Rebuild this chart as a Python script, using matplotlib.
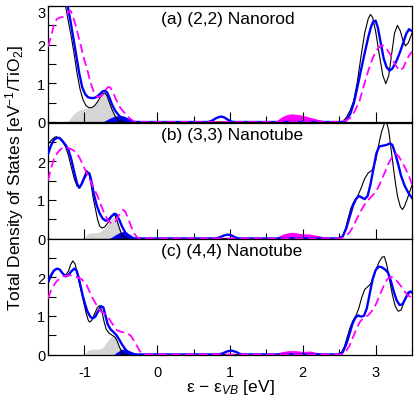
import matplotlib
matplotlib.use('Agg')
import matplotlib.pyplot as plt

plt.rcParams['font.family'] = ['Liberation Sans', 'DejaVu Sans']
plt.rcParams['mathtext.fontset'] = 'custom'
plt.rcParams['mathtext.rm'] = 'Liberation Sans'
plt.rcParams['mathtext.it'] = 'Liberation Sans:italic'
plt.rcParams['axes.unicode_minus'] = False

# ---- data ---------------------------------------------------------------
# panel (a) (2,2) Nanorod
A_black_x = [-1.50, -1.40, -1.30, -1.26, -1.22, -1.18, -1.14, -1.10, -1.06, -1.02,
             -0.98, -0.94, -0.90, -0.86, -0.82, -0.78, -0.75, -0.72, -0.69, -0.66,
             -0.62, -0.58, -0.54, -0.50, -0.45,
             2.50, 2.55, 2.60, 2.65, 2.70, 2.75, 2.80, 2.85, 2.90, 2.93,
             2.96, 3.00, 3.05, 3.10, 3.14, 3.18, 3.22, 3.26, 3.30, 3.34,
             3.38, 3.41, 3.45, 3.50]
A_black_y = [4.60, 4.00, 3.30, 3.00, 2.60, 2.20, 1.75, 1.25, 0.85, 0.58,
             0.43, 0.37, 0.37, 0.42, 0.52, 0.65, 0.73, 0.75, 0.68, 0.52,
             0.32, 0.16, 0.06, 0.01, 0.00,
             0.00, 0.02, 0.12, 0.30, 0.55, 1.05, 1.70, 2.30, 2.68, 2.78,
             2.70, 2.35, 1.75, 1.20, 0.99, 1.20, 1.75, 2.30, 2.50, 2.35,
             2.08, 1.97, 2.05, 2.30]
A_blue_x = [-1.50, -1.30, -1.23, -1.19, -1.15, -1.11, -1.07, -1.03, -0.99, -0.95,
            -0.91, -0.87, -0.83, -0.79, -0.75, -0.72, -0.69, -0.66, -0.62, -0.58,
            -0.54, -0.50, -0.45, -0.40, -0.35,
            0.70, 0.75, 0.80, 0.85, 0.88, 0.92, 0.97, 1.02, 1.06,
            2.55, 2.60, 2.65, 2.70, 2.75, 2.80, 2.85, 2.90, 2.94, 2.97,
            3.00, 3.03, 3.07, 3.11, 3.15, 3.19, 3.23, 3.28, 3.33, 3.38,
            3.42, 3.46, 3.50]
A_blue_y = [4.50, 3.40, 3.00, 2.60, 2.15, 1.70, 1.25, 0.90, 0.72, 0.64,
            0.62, 0.62, 0.65, 0.72, 0.79, 0.81, 0.77, 0.65, 0.45, 0.30,
            0.20, 0.12, 0.06, 0.02, 0.00,
            0.00, 0.03, 0.09, 0.13, 0.14, 0.12, 0.06, 0.01, 0.00,
            0.00, 0.05, 0.20, 0.48, 0.90, 1.35, 1.78, 2.20, 2.48, 2.60,
            2.62, 2.45, 2.05, 1.65, 1.42, 1.33, 1.38, 1.55, 1.78, 2.05,
            2.28, 2.40, 2.35]
A_mag_x = [-1.50, -1.46, -1.42, -1.38, -1.34, -1.29, -1.25, -1.22, -1.19, -1.16,
           -1.12, -1.08, -1.04, -1.00, -0.96, -0.92, -0.88, -0.84, -0.80, -0.76,
           -0.72, -0.68, -0.65, -0.62, -0.58, -0.54, -0.50, -0.46, -0.42, -0.38,
           -0.34, -0.30,
           2.50, 2.60, 2.66, 2.72, 2.78, 2.84, 2.90, 2.96, 3.01, 3.06,
           3.10, 3.15, 3.21, 3.27, 3.33, 3.38, 3.42, 3.46, 3.50]
A_mag_y = [1.95, 2.20, 2.50, 2.66, 2.70, 2.72, 2.73, 2.85, 2.88, 2.75,
           2.50, 2.20, 1.90, 1.60, 1.35, 1.05, 0.82, 0.68, 0.64, 0.68,
           0.80, 0.90, 0.90, 0.82, 0.65, 0.48, 0.35, 0.26, 0.18, 0.10,
           0.04, 0.00,
           0.00, 0.05, 0.12, 0.30, 0.55, 0.95, 1.33, 1.65, 1.85, 1.96,
           1.98, 1.90, 1.72, 1.48, 1.33, 1.40, 1.58, 1.72, 1.82]
A_gray_x = [-1.24, -1.20, -1.15, -1.10, -1.05, -1.00, -0.95, -0.90, -0.86, -0.82,
            -0.78, -0.75, -0.72, -0.69, -0.66, -0.62, -0.58, -0.54, -0.50, -0.47]
A_gray_y = [0.00, 0.08, 0.20, 0.28, 0.32, 0.34, 0.36, 0.37, 0.42, 0.52,
            0.65, 0.73, 0.75, 0.68, 0.52, 0.32, 0.16, 0.06, 0.01, 0.00]
A_bfill_x = [-0.75, -0.70, -0.65, -0.60, -0.55, -0.50, -0.45, -0.40, -0.35, -0.30, -0.28]
A_bfill_y = [0.00, 0.05, 0.10, 0.14, 0.16, 0.17, 0.15, 0.10, 0.05, 0.01, 0.00]
A_mfill_x = [1.60, 1.65, 1.70, 1.75, 1.80, 1.85, 1.90, 1.95, 2.00, 2.05,
             2.10, 2.15, 2.20, 2.28, 2.36, 2.45]
A_mfill_y = [0.00, 0.05, 0.12, 0.17, 0.20, 0.21, 0.20, 0.19, 0.17, 0.15,
             0.12, 0.10, 0.07, 0.04, 0.02, 0.00]

# panel (b) (3,3) Nanotube
B_black_x = [-1.50, -1.45, -1.41, -1.38, -1.34, -1.30, -1.26, -1.22, -1.18, -1.14,
             -1.10, -1.07, -1.04, -1.00, -0.97, -0.94, -0.91, -0.88, -0.85, -0.82,
             -0.79, -0.76, -0.72, -0.68, -0.64, -0.61, -0.58, -0.55, -0.52, -0.49,
             -0.46, -0.43,
             2.48, 2.54, 2.58, 2.62, 2.66, 2.70, 2.75, 2.80, 2.85, 2.90,
             2.95, 3.00, 3.04, 3.08, 3.12, 3.15, 3.18, 3.22, 3.26, 3.30,
             3.34, 3.37, 3.40, 3.44, 3.47, 3.50]
B_black_y = [2.44, 2.55, 2.62, 2.63, 2.58, 2.50, 2.38, 2.15, 1.85, 1.55,
             1.35, 1.32, 1.42, 1.62, 1.76, 1.70, 1.42, 1.05, 0.78, 0.50,
             0.32, 0.27, 0.30, 0.40, 0.52, 0.60, 0.60, 0.45, 0.27, 0.12,
             0.04, 0.00,
             0.00, 0.05, 0.20, 0.50, 0.78, 0.95, 1.08, 1.30, 1.55, 1.70,
             1.76, 2.00, 2.40, 2.75, 2.97, 3.00, 2.80, 2.20, 1.60, 1.10,
             0.82, 0.75, 0.85, 1.05, 1.22, 1.38]
B_blue_x = [-1.50, -1.46, -1.42, -1.38, -1.34, -1.30, -1.26, -1.22, -1.18, -1.14,
            -1.10, -1.07, -1.04, -1.00, -0.96, -0.93, -0.90, -0.87, -0.83, -0.79,
            -0.75, -0.71, -0.67, -0.63, -0.59, -0.56, -0.52, -0.48, -0.44, -0.40,
            -0.36, -0.32,
            0.80, 0.86, 0.92, 0.97, 1.02, 1.07, 1.12,
            2.50, 2.55, 2.60, 2.65, 2.69, 2.73, 2.77, 2.81, 2.85, 2.89,
            2.93, 2.97, 3.01, 3.05, 3.10, 3.15, 3.20, 3.23, 3.27, 3.31,
            3.35, 3.40, 3.45, 3.50]
B_blue_y = [2.18, 2.40, 2.55, 2.60, 2.60, 2.52, 2.42, 2.30, 2.05, 1.72,
            1.42, 1.31, 1.40, 1.57, 1.70, 1.68, 1.45, 1.15, 0.85, 0.65,
            0.52, 0.46, 0.48, 0.57, 0.64, 0.62, 0.48, 0.30, 0.16, 0.07,
            0.02, 0.00,
            0.00, 0.03, 0.08, 0.10, 0.08, 0.03, 0.00,
            0.00, 0.06, 0.28, 0.60, 0.85, 1.02, 1.10, 1.06, 1.02, 1.10,
            1.40, 1.80, 2.20, 2.38, 2.40, 2.42, 2.46, 2.42, 2.20, 1.92,
            1.62, 1.36, 1.18, 1.05]
B_mag_x = [-1.50, -1.46, -1.42, -1.37, -1.32, -1.27, -1.22, -1.17, -1.12, -1.07,
           -1.02, -0.97, -0.92, -0.87, -0.82, -0.77, -0.72, -0.67, -0.62, -0.57,
           -0.52, -0.47, -0.44, -0.40, -0.36, -0.32, -0.28, -0.24,
           2.52, 2.58, 2.64, 2.69, 2.74, 2.80, 2.85, 2.90, 2.95, 3.01,
           3.06, 3.12, 3.18, 3.23, 3.28, 3.32, 3.36, 3.40, 3.45, 3.50]
B_mag_y = [1.50, 1.80, 2.05, 2.22, 2.32, 2.35, 2.34, 2.30, 2.24, 2.10,
           1.90, 1.70, 1.50, 1.30, 1.10, 0.85, 0.62, 0.45, 0.38, 0.45,
           0.62, 0.74, 0.70, 0.52, 0.32, 0.14, 0.04, 0.00,
           0.00, 0.05, 0.15, 0.30, 0.50, 0.72, 0.88, 1.00, 1.10, 1.22,
           1.42, 1.68, 1.95, 2.12, 2.19, 2.12, 1.98, 1.85, 1.65, 1.40]
B_gray_x = [-1.00, -0.97, -0.93, -0.88, -0.83, -0.78, -0.73, -0.68, -0.64, -0.61,
            -0.58, -0.55, -0.52, -0.49, -0.46, -0.43]
B_gray_y = [0.00, 0.10, 0.14, 0.15, 0.15, 0.18, 0.25, 0.38, 0.48, 0.55,
            0.58, 0.45, 0.27, 0.12, 0.04, 0.00]
B_bfill_x = [-0.66, -0.62, -0.57, -0.52, -0.47, -0.42, -0.37, -0.32, -0.27, -0.24]
B_bfill_y = [0.00, 0.04, 0.10, 0.15, 0.18, 0.16, 0.10, 0.04, 0.01, 0.00]
B_mfill_x = [1.62, 1.67, 1.72, 1.78, 1.84, 1.90, 1.96, 2.02, 2.08, 2.14,
             2.20, 2.28, 2.38, 2.48]
B_mfill_y = [0.00, 0.06, 0.11, 0.14, 0.16, 0.15, 0.13, 0.12, 0.12, 0.10,
             0.08, 0.05, 0.02, 0.00]

# panel (c) (4,4) Nanotube
C_black_x = [-1.50, -1.46, -1.42, -1.38, -1.34, -1.30, -1.26, -1.22, -1.19, -1.16,
             -1.13, -1.10, -1.07, -1.04, -1.01, -0.98, -0.95, -0.93, -0.90, -0.86,
             -0.82, -0.79, -0.76, -0.73, -0.70, -0.66, -0.62, -0.58, -0.55, -0.52,
             -0.49, -0.46, -0.43,
             2.48, 2.53, 2.57, 2.61, 2.65, 2.69, 2.73, 2.77, 2.81, 2.85,
             2.89, 2.93, 2.97, 3.01, 3.05, 3.09, 3.12, 3.15, 3.19, 3.23,
             3.27, 3.31, 3.35, 3.39, 3.43, 3.47, 3.50]
C_black_y = [1.82, 2.00, 2.15, 2.22, 2.20, 2.10, 2.05, 2.15, 2.32, 2.42,
             2.35, 2.12, 1.85, 1.60, 1.35, 1.10, 0.90, 0.84, 0.88, 1.05,
             1.22, 1.26, 1.12, 0.85, 0.65, 0.55, 0.50, 0.45, 0.35, 0.20,
             0.08, 0.02, 0.00,
             0.00, 0.05, 0.20, 0.45, 0.70, 0.88, 1.00, 1.20, 1.48, 1.68,
             1.75, 1.82, 2.00, 2.22, 2.40, 2.52, 2.53, 2.35, 1.95, 1.55,
             1.25, 1.12, 1.15, 1.35, 1.52, 1.60, 1.62]
C_blue_x = [-1.50, -1.46, -1.42, -1.38, -1.34, -1.30, -1.26, -1.22, -1.18, -1.14,
            -1.11, -1.08, -1.05, -1.02, -0.99, -0.96, -0.92, -0.89, -0.85, -0.81,
            -0.77, -0.74, -0.71, -0.68, -0.64, -0.60, -0.56, -0.52, -0.48, -0.44,
            -0.40, -0.36, -0.32,
            0.84, 0.90, 0.96, 1.02, 1.08, 1.13, 1.17,
            2.50, 2.55, 2.60, 2.64, 2.68, 2.72, 2.76, 2.80, 2.84, 2.88,
            2.92, 2.96, 3.00, 3.04, 3.08, 3.13, 3.17, 3.21, 3.25, 3.29,
            3.33, 3.37, 3.41, 3.45, 3.48, 3.50]
C_blue_y = [1.90, 2.05, 2.17, 2.22, 2.20, 2.10, 2.02, 2.05, 2.15, 2.22,
            2.18, 2.00, 1.75, 1.50, 1.30, 1.12, 0.98, 0.93, 0.98, 1.12,
            1.25, 1.22, 1.00, 0.78, 0.65, 0.58, 0.50, 0.38, 0.25, 0.14,
            0.06, 0.02, 0.00,
            0.00, 0.03, 0.08, 0.10, 0.07, 0.02, 0.00,
            0.00, 0.06, 0.28, 0.52, 0.78, 0.95, 1.01, 0.98, 1.00, 1.20,
            1.58, 1.95, 2.18, 2.27, 2.26, 2.20, 2.12, 1.90, 1.62, 1.40,
            1.28, 1.30, 1.45, 1.60, 1.63, 1.60]
C_mag_x = [-1.50, -1.45, -1.38, -1.30, -1.20, -1.10, -1.04, -0.97, -0.90, -0.84,
           -0.78, -0.72, -0.66, -0.60, -0.55, -0.48, -0.42, -0.36, -0.30, -0.25,
           -0.20,
           2.53, 2.58, 2.64, 2.69, 2.74, 2.79, 2.84, 2.90, 2.96, 3.01,
           3.06, 3.11, 3.16, 3.21, 3.26, 3.31, 3.36, 3.41, 3.45, 3.50]
C_mag_y = [1.45, 1.70, 1.90, 2.02, 2.05, 2.00, 1.95, 1.80, 1.50, 1.30,
           1.12, 1.05, 0.92, 0.75, 0.62, 0.58, 0.56, 0.48, 0.30, 0.12,
           0.00,
           0.00, 0.05, 0.22, 0.45, 0.68, 0.86, 0.95, 1.02, 1.15, 1.32,
           1.55, 1.77, 1.95, 2.01, 1.97, 1.86, 1.74, 1.60, 1.52, 1.48]
C_gray_x = [-1.00, -0.96, -0.92, -0.86, -0.80, -0.75, -0.70, -0.66, -0.62, -0.58,
            -0.55, -0.52, -0.49, -0.46, -0.43]
C_gray_y = [0.00, 0.10, 0.13, 0.14, 0.13, 0.18, 0.30, 0.42, 0.48, 0.45,
            0.35, 0.20, 0.08, 0.02, 0.00]
C_bfill_x = [-0.60, -0.56, -0.52, -0.47, -0.42, -0.37, -0.32, -0.27, -0.22]
C_bfill_y = [0.00, 0.05, 0.10, 0.14, 0.13, 0.09, 0.05, 0.02, 0.00]
C_mfill_x = [1.60, 1.70, 1.80, 1.90, 2.00, 2.10, 2.20, 2.35]
C_mfill_y = [0.00, 0.07, 0.10, 0.10, 0.08, 0.09, 0.05, 0.00]

labels = ['(a) (2,2) Nanorod', '(b) (3,3) Nanotube', '(c) (4,4) Nanotube']
xticks = [-1, 0, 1, 2, 3]

panels = [
    (A_black_x, A_black_y, A_blue_x, A_blue_y, A_mag_x, A_mag_y,
     A_gray_x, A_gray_y, A_bfill_x, A_bfill_y, A_mfill_x, A_mfill_y),
    (B_black_x, B_black_y, B_blue_x, B_blue_y, B_mag_x, B_mag_y,
     B_gray_x, B_gray_y, B_bfill_x, B_bfill_y, B_mfill_x, B_mfill_y),
    (C_black_x, C_black_y, C_blue_x, C_blue_y, C_mag_x, C_mag_y,
     C_gray_x, C_gray_y, C_bfill_x, C_bfill_y, C_mfill_x, C_mfill_y),
]

BLUE = '#0000ff'
MAG = '#ff00ff'
GRAY = '#d6d6d6'

fig = plt.figure(figsize=(4.15, 4.02), dpi=100)
fig.patch.set_facecolor('white')

L, W = 48 / 415, 364 / 415
tops = [7, 123.5, 239.5]
H = 116 / 402

for i, (bx, by, ux, uy, mx, my, gx, gy, fx, fy, px, py) in enumerate(panels):
    ax = fig.add_axes([L, 1 - (tops[i] / 402) - H, W, H])
    ax.fill_between(gx, gy, 0, color=GRAY, lw=0, zorder=1)
    ax.fill_between(fx, fy, 0, color=BLUE, lw=0, zorder=1.5)
    ax.fill_between(px, py, 0, color=MAG, lw=0, zorder=1.5)
    ax.plot(bx, by, color='black', lw=0.8, zorder=2)
    ax.plot(ux, uy, color=BLUE, lw=1.7, zorder=3)
    ax.plot(mx, my, color=MAG, lw=1.3, dashes=(5, 2.5), zorder=4)

    ax.set_xlim(-1.5, 3.5)
    ax.set_ylim(0, 3)
    ax.set_xticks(xticks)
    ax.set_xticks([-1.5, -0.5, 0.5, 1.5, 2.5, 3.5], minor=True)
    ax.set_yticks([0, 1, 2, 3] if i == 0 else [0, 1, 2])
    ax.set_yticks([0.5, 1.5, 2.5], minor=True)
    ax.tick_params(which='both', direction='in', top=False, right=False,
                   labelsize=10.5, width=0.8)
    ax.tick_params(axis='x', which='major', length=7, pad=7.5)
    ax.tick_params(axis='x', which='minor', length=4)
    ax.tick_params(axis='y', which='both', length=6, pad=2)
    if i < 2:
        ax.set_xticklabels([])
    for s in ax.spines.values():
        s.set_linewidth(0.9)
    ax.text(0.31, 0.895, labels[i], transform=ax.transAxes,
            ha='left', va='center', fontsize=12.5)
    if i == 0:
        ax.get_yticklabels()[-1].set_va('top')

fig.text(0.034, 1 - 178 / 402, 'Total Density of States [eV$^{-1}$/TiO$_2$]',
         rotation=90, ha='center', va='center', fontsize=12.5)
fig.text(L + W / 2, 1 - 388 / 402, 'ε − ε$_{\\mathit{VB}}$ [eV]',
         ha='center', va='center', fontsize=12.5)

fig.savefig('out.png', dpi=100, facecolor='white')
